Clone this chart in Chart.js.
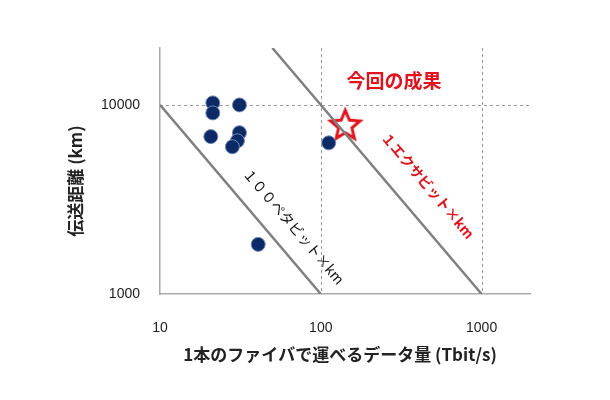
<!DOCTYPE html>
<html><head><meta charset="utf-8">
<script src="https://cdn.jsdelivr.net/npm/chart.js@4"></script>
<style>body{margin:0;background:#fff}#c{display:block}</style>
</head><body>
<canvas id="c" width="610" height="400"></canvas>
<script>
const pastX = [21.3, 21.3, 31.2, 20.7, 31.2, 30.3, 28.2, 112, 40.8];
const pastY = [10250, 9070, 10000, 6800, 7130, 6460, 6010, 6300, 1830];
const thisX = [142];
const thisY = [7850];
const line100PX = [10, 100];
const line100PY = [10000, 1000];
const line1EX = [50, 1000];
const line1EY = [20000, 1000];
const xTicks = [10, 100, 1000];
const yTicks = [1000, 10000];
const xGrid = [100, 1000];
const yGrid = [10000];
const xTitle = '1本のファイバで運べるデータ量 (Tbit/s)';
const yTitle = '伝送距離 (km)';

const zip = (a,b)=>a.map((v,i)=>({x:v,y:b[i]}));
const star = document.createElement('canvas');
star.width = 40; star.height = 40;
(function(){const g=star.getContext('2d');g.beginPath();
for(let i=0;i<10;i++){const r=i%2?7:15.5;const a=-Math.PI/2+i*Math.PI/5;
g.lineTo(20+r*Math.cos(a),21+r*Math.sin(a));}
g.closePath();g.fillStyle='#fff';g.fill();g.lineWidth=3;g.strokeStyle='#e0141e';g.lineJoin='miter';g.stroke();})();

const labels = {
  id:'labels',
  beforeDatasetsDraw(ch){
    const c=ch.ctx, xs=ch.scales.x, ys=ch.scales.y, a=ch.chartArea;
    c.save();c.strokeStyle='#999';c.lineWidth=1;c.setLineDash([3,3]);
    xGrid.forEach(v=>{const p=Math.round(xs.getPixelForValue(v))+0.5;c.beginPath();c.moveTo(p,a.top);c.lineTo(p,a.bottom);c.stroke();});
    yGrid.forEach(v=>{const p=Math.round(ys.getPixelForValue(v))+0.5;c.beginPath();c.moveTo(a.left,p);c.lineTo(a.right,p);c.stroke();});
    c.restore();
  },
  afterDatasetsDraw(ch){
    const c=ch.ctx, xs=ch.scales.x, ys=ch.scales.y;
    const ang=Math.atan2(ys.getPixelForValue(1000)-ys.getPixelForValue(10000), xs.getPixelForValue(100)-xs.getPixelForValue(10));
    const put=(t,x,y,col,font,rot)=>{c.save();c.translate(xs.getPixelForValue(x),ys.getPixelForValue(y));c.rotate(rot);
      c.fillStyle=col;c.font=font;c.textAlign='center';c.textBaseline='middle';c.fillText(t,0,0);c.restore();};
    put('１００ペタビット×km',68,2280,'#111','14px "Noto Sans CJK JP"',ang);
    put('１エクサビット×km',464,3750,'#e0141e','bold 14px "Noto Sans CJK JP"',ang);
    put('今回の成果',285,13400,'#e0141e','bold 19px "Noto Sans CJK JP"',0);
    c.save();c.fillStyle='#222';c.font='bold 17px "Noto Sans CJK JP"';c.textAlign='center';c.textBaseline='middle';
    c.fillText(xTitle,(ch.chartArea.left+ch.chartArea.right)/2-5,355);
    c.translate(76,(ch.chartArea.top+ch.chartArea.bottom)/2+10);c.rotate(-Math.PI/2);c.fillText(yTitle,0,0);c.restore();
  }
};
new Chart(document.getElementById('c'),{
  type:'scatter',
  data:{datasets:[
    {data:zip(line100PX,line100PY),showLine:true,borderColor:'#808080',borderWidth:2.5,pointRadius:0},
    {data:zip(line1EX,line1EY),showLine:true,borderColor:'#808080',borderWidth:2.5,pointRadius:0},
    {data:zip(pastX,pastY),backgroundColor:'#0c2a66',borderColor:'#6f88b8',borderWidth:1,pointRadius:7},
    {data:zip(thisX,thisY),pointStyle:star,pointRadius:20}
  ]},
  options:{responsive:false,animation:false,
    layout:{padding:{left:0,right:80,top:48,bottom:0}},
    plugins:{legend:{display:false},tooltip:{enabled:false}},
    scales:{
      x:{type:'logarithmic',min:10,max:2000,
        afterBuildTicks:s=>{s.ticks=xTicks.map(v=>({value:v}));},
        afterFit:s=>{s.height=106;},
        ticks:{color:'#222',font:{size:14,family:'Liberation Sans'},padding:18,callback:v=>String(v)},
        grid:{display:false},
        border:{color:'#aaa',width:1.5}},
      y:{type:'logarithmic',min:1000,max:20000,
        afterBuildTicks:s=>{s.ticks=yTicks.map(v=>({value:v}));},
        afterFit:s=>{s.width=160;},
        ticks:{color:'#222',font:{size:14,family:'Liberation Sans'},padding:12,callback:v=>String(v)},
        grid:{display:false},
        border:{color:'#aaa',width:1.5}}
    }},
  plugins:[labels]
});
</script></body></html>
